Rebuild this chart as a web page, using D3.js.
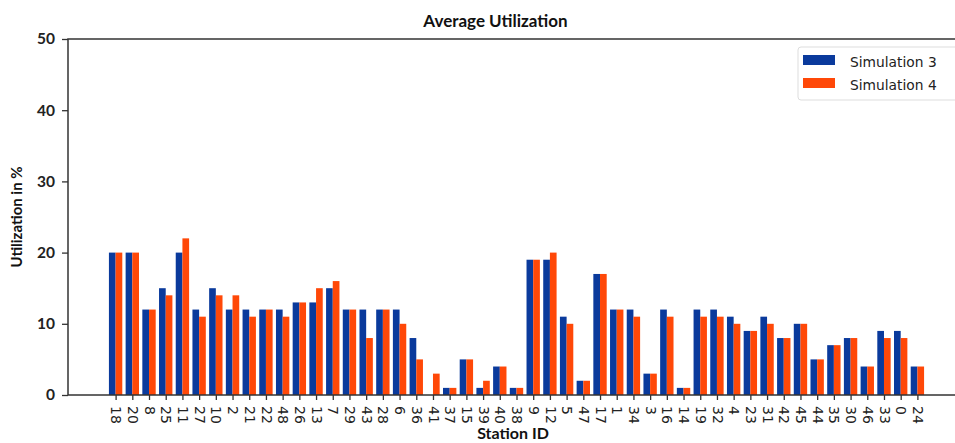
<!DOCTYPE html>
<html><head><meta charset="utf-8">
<script src="https://cdn.jsdelivr.net/npm/d3@7"></script>
<style>body{margin:0;background:#fff;} svg{display:block;}</style>
</head><body>
<svg id="c" width="955" height="443"></svg>
<script>
const stations = ["18","20","8","25","11","27","10","2","21","22","48","26","13","7","29","43","28","6","36","41","37","15","39","40","38","9","12","5","47","17","1","34","3","16","14","19","32","4","23","31","42","45","44","35","30","46","33","0","24"];
const sim3 = [20,20,12,15,20,12,15,12,12,12,12,13,13,15,12,12,12,12,8,0,1,5,1,4,1,19,19,11,2,17,12,12,3,12,1,12,12,11,9,11,8,10,5,7,8,4,9,9,4];
const sim4 = [20,20,12,14,22,11,14,14,11,12,11,13,15,16,12,8,12,10,5,3,1,5,2,4,1,19,20,10,2,17,12,11,3,11,1,11,11,10,9,10,8,10,5,7,8,4,8,8,4];
const seriesNames = ["Simulation 3","Simulation 4"];
const yTicks = [0,10,20,30,40,50];
const colors = ["#0a3a9c","#ff4808"];

(function(){
const svg = d3.select("#c");
const L = 68, R = 965, T = 39, B = 395;
const x = d3.scaleLinear().domain([-2.85, stations.length - 1 + 2.85]).range([L, R]);
const y = d3.scaleLinear().domain([0, 50]).range([B, T]);
const bw = 0.4;
const tickFont = "'DejaVu Sans', sans-serif";
const labFont = "Lato, 'Open Sans', sans-serif";

const g = svg.append("g");
[sim3, sim4].forEach((vals, s) => {
  g.selectAll(null).data(vals).enter().append("rect")
    .attr("x", (d, i) => x(i + (s === 0 ? -bw : 0)))
    .attr("width", x(bw) - x(0))
    .attr("y", d => y(d))
    .attr("height", d => y(0) - y(d))
    .attr("fill", colors[s]);
});

svg.append("rect").attr("x", L).attr("y", T).attr("width", R - L).attr("height", B - T)
  .attr("fill", "none").attr("stroke", "#333").attr("stroke-width", 1.5);

const ya = svg.append("g").attr("transform", `translate(${L},0)`)
  .call(d3.axisLeft(y).tickValues(yTicks).tickSize(6).tickPadding(7));
ya.select(".domain").remove();
ya.selectAll("line").attr("stroke", "#333").attr("stroke-width", 1.3);
ya.selectAll("text").attr("font-family", labFont).attr("font-size", 15.5).attr("font-weight", "bold").attr("fill", "#222");

const xa = svg.append("g").attr("transform", `translate(0,${B})`)
  .call(d3.axisBottom(x).tickValues(d3.range(stations.length)).tickFormat(i => stations[i]).tickSize(5));
xa.select(".domain").remove();
xa.selectAll("line").attr("stroke", "#333").attr("stroke-width", 1.3);
xa.selectAll("text")
  .attr("font-family", tickFont).attr("font-size", 14).attr("fill", "#222")
  .attr("transform", "rotate(90)")
  .attr("text-anchor", "start")
  .attr("x", 11).attr("y", 0).attr("dy", "0.35em");

svg.append("text").attr("x", 495.5).attr("y", 27).attr("text-anchor", "middle")
  .attr("font-family", labFont).attr("font-weight", "bold").attr("font-size", 17).attr("fill", "#111").text("Average Utilization");
svg.append("text").attr("x", 513).attr("y", 439).attr("text-anchor", "middle")
  .attr("font-family", labFont).attr("font-weight", "bold").attr("font-size", 16).attr("fill", "#111").text("Station ID");
svg.append("text").attr("transform", "translate(22,217) rotate(-90)").attr("text-anchor", "middle")
  .attr("font-family", labFont).attr("font-weight", "bold").attr("font-size", 15).attr("fill", "#111").text("Utilization in %");

const lg = svg.append("g");
lg.append("rect").attr("x", 798).attr("y", 47).attr("width", 170).attr("height", 53).attr("rx", 3)
  .attr("fill", "#fff").attr("stroke", "#ddd");
seriesNames.forEach((n, i) => {
  lg.append("rect").attr("x", 803).attr("y", 55 + i * 23).attr("width", 32).attr("height", 10).attr("fill", colors[i]);
  lg.append("text").attr("x", 850).attr("y", 66.5 + i * 23).attr("font-family", tickFont).attr("font-size", 13.8)
    .attr("fill", "#222").text(n);
});
})();
</script>
</body></html>
